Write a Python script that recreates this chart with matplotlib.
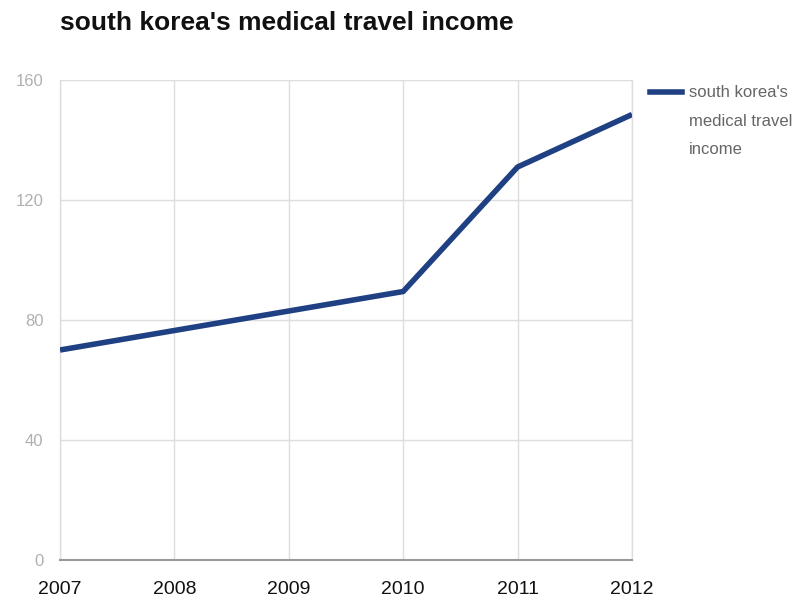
import matplotlib
matplotlib.use("Agg")
from matplotlib import pyplot as plt

years = ["2007", "2008", "2009", "2010", "2011", "2012"]
income = [70, 76.5, 83, 89.5, 131, 148.5]
y_ticks = [0, 40, 80, 120, 160]
legend_lines = ["south korea's", "medical travel", "income"]

plt.rcParams["font.family"] = ["Liberation Sans Narrow", "Liberation Sans", "DejaVu Sans"]

fig = plt.figure(figsize=(8.07, 5.99), dpi=100)
ax = fig.add_axes([60 / 807, 39 / 599, 572 / 807, 480 / 599])

x = list(range(len(years)))
ax.plot(x, income, color="#1f4082", linewidth=4, solid_capstyle="butt", zorder=3)

ax.set_xlim(0, len(years) - 1)
ax.set_ylim(0, 160)
ax.set_xticks(x)
ax.set_xticklabels(years, fontsize=14, color="#111111")
ax.set_yticks(y_ticks)
ax.set_yticklabels([str(v) for v in y_ticks], fontsize=12, color="#b0b0b0")
ax.tick_params(axis="both", length=0)
ax.tick_params(axis="x", pad=15)
ax.tick_params(axis="y", pad=12)

ax.grid(True, color="#dddddd", linewidth=1)
ax.set_axisbelow(True)
ax.spines["top"].set_visible(False)
for side in ["left", "right"]:
    ax.spines[side].set_color("#dddddd")
    ax.spines[side].set_linewidth(1)
ax.spines["bottom"].set_color("#999999")
ax.spines["bottom"].set_linewidth(1.5)
ax.spines["bottom"].set_zorder(4)

fig.text(60 / 807, 1 - 23 / 599, "south korea's medical travel income",
         fontsize=19, fontweight="bold", color="#111111", va="center", ha="left")

# legend
fig.add_artist(plt.Line2D([650 / 807, 682 / 807], [1 - 92 / 599, 1 - 92 / 599],
                          color="#1f4082", linewidth=4, transform=fig.transFigure))
for i, line in enumerate(legend_lines):
    fig.text(689 / 807, 1 - (92 + 29 * i) / 599, line,
             fontsize=12, color="#666666", va="center", ha="left")

fig.savefig("out.png", dpi=100)
